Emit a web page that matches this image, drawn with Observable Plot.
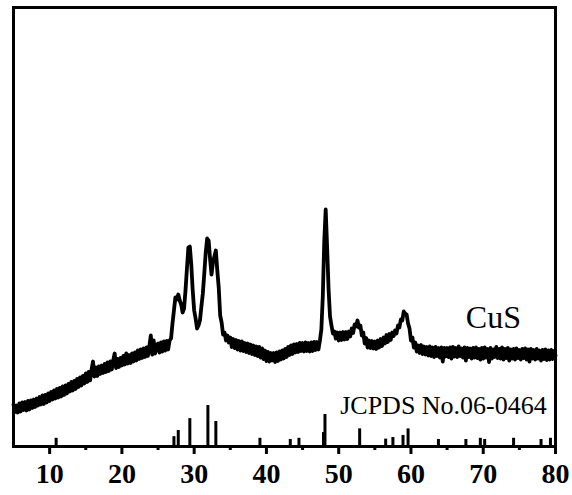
<!DOCTYPE html>
<html>
<head>
<meta charset="utf-8">
<script src="https://cdn.jsdelivr.net/npm/d3@7"></script>
<script src="https://cdn.jsdelivr.net/npm/@observablehq/plot@0.6"></script>
<style>
  html, body { margin: 0; padding: 0; background: #fff; }
  #chart svg { display: block; }
  #chart g[aria-label="x-axis tick label"] text { font-weight: 700; }
</style>
</head>
<body>
<div id="chart"></div>
<script>
// Measured pattern: 2θ from 5° to 80° in 0.2° steps, intensity in counts
const scanStart = 5;
const scanStep = 0.2;
const intensity = [
  420, 345, 410, 340, 430,
  350, 440, 365, 445, 360,
  455, 370, 460, 385, 470,
  395, 480, 410, 495, 420,
  510, 425, 515, 440, 530,
  455, 545, 470, 560, 480,
  575, 490, 585, 500, 600,
  515, 610, 530, 625, 550,
  645, 560, 655, 575, 675,
  595, 690, 610, 705, 630,
  730, 645, 745, 660, 770,
  850, 700, 790, 705, 800,
  725, 810, 735, 825, 745,
  840, 755, 850, 770, 860,
  930, 785, 875, 795, 885,
  810, 905, 820, 930, 830,
  915, 835, 930, 850, 940,
  860, 960, 875, 970, 885,
  980, 895, 990, 905, 1005,
  1110, 920, 1060, 930, 1015,
  1030, 940, 1040, 950, 1050,
  960, 1055, 970, 1060, 1080,
  1230, 1360, 1490, 1470, 1520,
  1460, 1420, 1340, 1380, 1560,
  1780, 1990, 2000, 1820, 1560,
  1360, 1280, 1180, 1210, 1260,
  1400, 1530, 1730, 1940, 2080,
  2060, 1880, 1720, 1840, 1900,
  1960, 1760, 1590, 1310, 1240,
  1120, 1140, 1060, 1110, 1040,
  1090, 995, 1075, 985, 1065,
  970, 1055, 960, 1050, 955,
  1035, 945, 1030, 935, 1020,
  925, 1010, 915, 1000, 905,
  995, 890, 980, 875, 960,
  855, 945, 850, 935, 860,
  935, 845, 940, 855, 950,
  870, 960, 880, 975, 895,
  995, 915, 1010, 925, 1020,
  940, 1025, 945, 1035, 955,
  1035, 950, 1040, 955, 1035,
  950, 1040, 955, 1045, 965,
  1045, 970, 1060, 1170, 1500,
  2050, 2370, 1990, 1570, 1300,
  1210, 1130, 1150, 1080, 1140,
  1060, 1140, 1065, 1145, 1070,
  1145, 1075, 1150, 1100, 1180,
  1135, 1220, 1200, 1260, 1190,
  1210, 1110, 1140, 1030, 1085,
  990, 1060, 985, 1055, 980,
  1050, 975, 1060, 990, 1075,
  1005, 1090, 1030, 1115, 1045,
  1125, 1065, 1140, 1105, 1160,
  1130, 1210, 1190, 1270, 1260,
  1350, 1330, 1320, 1230, 1180,
  1060, 1090, 990, 1040, 950,
  1010, 935, 1015, 925, 1000,
  920, 995, 910, 1000, 905,
  990, 895, 995, 905, 985,
  890, 990, 850, 985, 900,
  985, 895, 990, 880, 995,
  900, 985, 895, 1000, 905,
  980, 890, 990, 860, 985,
  895, 980, 880, 985, 890,
  990, 885, 975, 870, 985,
  880, 990, 890, 975, 845,
  985, 880, 970, 895, 995,
  885, 975, 880, 990, 870,
  975, 885, 985, 860, 970,
  880, 975, 870, 980, 885,
  965, 870, 975, 885, 980,
  870, 970, 850, 975, 880,
  965, 870, 975, 880, 960,
  860, 965, 875, 970, 865,
  960, 870, 965, 875, 955,
  910
];

// Reference card JCPDS 06-0464 (CuS): line positions (2θ) and relative intensities (%)
const refPositions = [10.9, 27.2, 27.8, 29.4, 31.9, 33.0, 39.1, 43.3, 44.5, 47.9, 48.1,
  52.9, 56.5, 57.5, 58.9, 59.6, 63.8, 67.6, 69.6, 70.2, 74.2, 78.0, 79.3];
const refRelative = [20, 24, 39, 68, 100, 61, 20, 17, 20, 34, 78,
  43, 18, 22, 27, 43, 17, 17, 20, 17, 20, 17, 20];
// counts per percent used to draw the reference sticks under the scan
const stickUnit = 4.1;

// Axis ticks
const majorTicks = [10, 20, 30, 40, 50, 60, 70, 80];
const minorTicks = [15, 25, 35, 45, 55, 65, 75];

// Annotations (position in 2θ / counts)
const labels = [
  {text: "CuS", x: 71.4, y: 1190, size: 32},
  {text: "JCPDS No.06-0464", x: 64.5, y: 330, size: 26}
];

const scan = intensity.map((v, i) => ({t: scanStart + i * scanStep, v}));
const sticks = refPositions.map((p, i) => ({t: p, h: refRelative[i] * stickUnit}));

const serif = "Liberation Serif, Times New Roman, serif";

const chart = Plot.plot({
  width: 572,
  height: 495,
  marginLeft: 13,
  marginRight: 17,
  marginTop: 7,
  marginBottom: 49,
  style: {fontFamily: serif, background: "#fff", color: "#000"},
  x: {domain: [5, 80], label: null},
  y: {domain: [0, 4390], axis: null},
  marks: [
    Plot.line(scan, {x: "t", y: "v", stroke: "#000", strokeWidth: 3.8, strokeLinejoin: "round"}),
    Plot.ruleX(sticks, {x: "t", y1: 0, y2: "h", stroke: "#000", strokeWidth: 3}),
    Plot.text(labels, {x: "x", y: "y", text: "text", fontSize: "size", lineAnchor: "bottom",
      textAnchor: "middle", fill: "#000", fontFamily: serif}),
    Plot.frame({stroke: "#000", strokeWidth: 3}),
    Plot.axisX({ticks: majorTicks, tickSize: 8, tickPadding: 9, strokeWidth: 3,
      fontSize: 28, fontWeight: "bold", fontFamily: serif, label: null, tickFormat: d => String(d)}),
    Plot.axisX({ticks: minorTicks, tickSize: 4, strokeWidth: 3, label: null, tickFormat: () => ""})
  ]
});

document.getElementById("chart").appendChild(chart);
</script>
</body>
</html>
